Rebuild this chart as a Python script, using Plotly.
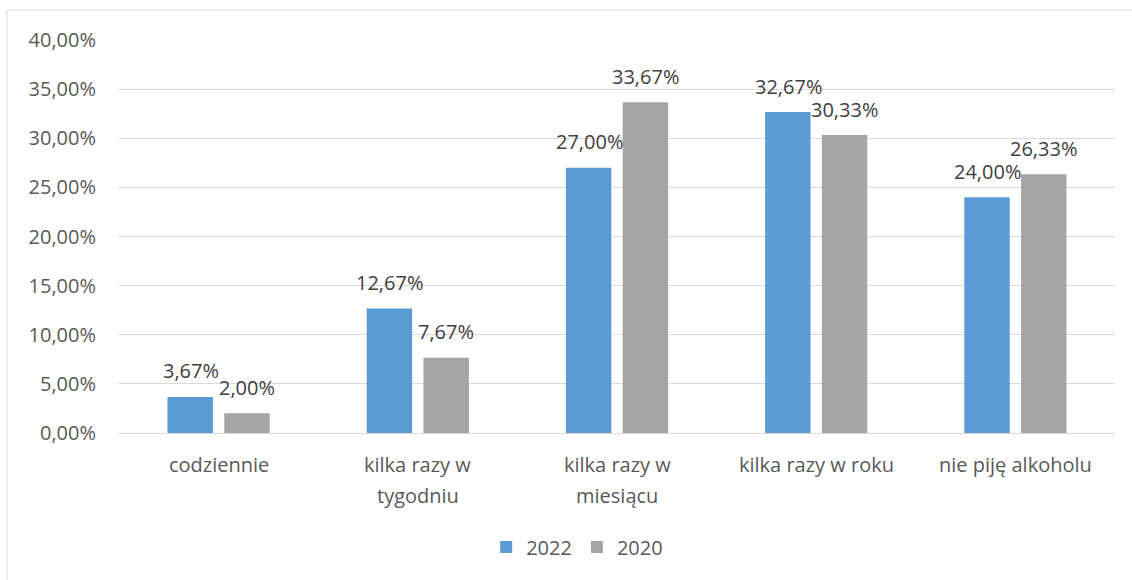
import plotly.graph_objects as go

categories = ["codziennie", "kilka razy w<br>tygodniu", "kilka razy w<br>miesiącu",
              "kilka razy w roku", "nie piję alkoholu"]
values_2022 = [3.67, 12.67, 27.00, 32.67, 24.00]
values_2020 = [2.00, 7.67, 33.67, 30.33, 26.33]
series = [("2022", values_2022, "#5B9BD5"), ("2020", values_2020, "#A5A5A5")]

FONT = "Open Sans"
TICK_COLOR = "#595959"
LABEL_COLOR = "#404040"
SIZE = 20

fig = go.Figure()
for name, vals, color in series:
    fig.add_trace(go.Bar(name=name, x=categories, y=vals,
                         marker=dict(color=color, line=dict(width=0))))

# value labels above each bar, offset left/right to sit over their bar in the group
offsets = [-28, 28]
for (name, vals, color), dx in zip(series, offsets):
    for cat, v in zip(categories, vals):
        fig.add_annotation(x=cat, y=v, xref="x", yref="y",
                           text=f"{v:.2f}%".replace(".", ","),
                           showarrow=False, xshift=dx, yshift=26,
                           yanchor="middle",
                           font=dict(family=FONT, size=SIZE, color=LABEL_COLOR))

# category labels below the axis, one annotation per line for wider spacing
for cat in categories:
    for i, line in enumerate(cat.split("<br>")):
        fig.add_annotation(x=cat, y=0, xref="x", yref="y", text=line,
                           showarrow=False, yanchor="middle",
                           yshift=-31 - 31 * i,
                           font=dict(family=FONT, size=SIZE, color=TICK_COLOR))

fig.update_layout(
    width=1132, height=580,
    margin=dict(l=119, r=17, t=40, b=147, autoexpand=False),
    paper_bgcolor="white", plot_bgcolor="white",
    separators=", ",
    barmode="group", bargap=0.43, bargroupgap=0.2,
    font=dict(family=FONT, size=SIZE, color=TICK_COLOR),
    legend=dict(orientation="h", x=0.46, xanchor="center", y=-0.29, yanchor="middle",
                font=dict(family=FONT, size=SIZE, color=TICK_COLOR),
                itemwidth=30, traceorder="normal"),
    xaxis=dict(showline=True, linecolor="#D9D9D9", linewidth=1, ticks="",
               showticklabels=False),
    yaxis=dict(range=[0, 40], dtick=5, tickformat=".2f", ticksuffix="%",
               showgrid=True, gridcolor="#D9D9D9", gridwidth=1,
               zeroline=False, showline=False,
               tickfont=dict(family=FONT, size=SIZE, color=TICK_COLOR),
               ticklabelstandoff=22),
)

# light outer frame around the chart area
fig.add_shape(type="rect", xref="paper", yref="paper",
              x0=-0.1124, x1=1.2, y0=-0.5, y1=1.0763,
              line=dict(color="#D9D9D9", width=1), fillcolor="rgba(0,0,0,0)",
              layer="below")

fig.write_html("out.html")
